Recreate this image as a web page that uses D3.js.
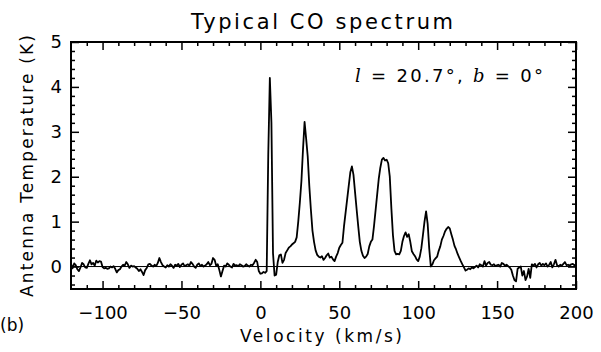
<!doctype html>
<html>
<head>
<style>
  body { margin: 0; background: #fff; }
  text { font-family: "DejaVu Sans", sans-serif; fill: #000; }
  .axis path { display: none; }
  .axis line { stroke: #000; stroke-width: 1.5; }
  .axis text { font-size: 18px; font-family: "DejaVu Sans", sans-serif; }
</style>
<script src="https://d3js.org/d3.v7.min.js"></script>
</head>
<body>
<svg width="601" height="352"></svg>
<script>
// velocity channels, 1 km/s apart, from -120 to 200 km/s
var vStart = -120, vStep = 1;
// antenna temperature (K) per channel
var temps = [
  0.06, -0.04, 0.07, 0.03, -0.06, -0.10, -0.02, 0.08, 0.05, -0.02,
  -0.03, 0.06, 0.14, 0.05, 0.08, 0.02, 0.13, 0.09, 0.12, 0.11,
  -0.01, -0.04, -0.03, -0.05, -0.04, 0.00, -0.02, 0.01, -0.05, -0.13,
  -0.08, -0.06, 0.00, 0.04, 0.02, 0.10, 0.05, -0.03, 0.02, 0.00,
  0.01, -0.02, -0.05, -0.10, -0.06, -0.12, -0.19, -0.08, -0.03, 0.05,
  0.06, 0.02, 0.00, 0.04, 0.01, 0.08, 0.19, 0.10, 0.03, 0.00,
  -0.02, 0.03, 0.00, 0.05, 0.02, -0.03, 0.04, 0.02, 0.06, -0.01,
  0.04, 0.07, 0.01, 0.03, 0.05, 0.02, 0.10, 0.06, 0.00, -0.03,
  0.04, 0.07, 0.01, 0.04, 0.00, 0.02, 0.05, 0.10, 0.03, 0.06,
  0.19, 0.15, 0.02, 0.05, -0.08, -0.22, -0.10, 0.02, 0.00, 0.07,
  0.04, 0.00, -0.02, 0.06, 0.02, 0.03, 0.01, 0.05, 0.03, 0.00,
  0.01, 0.05, 0.02, 0.00, 0.04, 0.03, 0.08, 0.15, 0.10, -0.10,
  // 0 .. 9
  -0.16, -0.15, -0.12, -0.14, -0.10, 2.50, 4.20, 3.20, 0.30, -0.20,
  -0.18, 0.10, 0.25, 0.27, 0.08, 0.15, 0.30, 0.36, 0.42, 0.45,
  0.49, 0.52, 0.55, 0.65, 1.00, 1.42, 1.90, 2.60, 3.22, 2.85,
  2.45, 1.80, 1.27, 0.80, 0.55, 0.36, 0.26, 0.22, 0.20, 0.23,
  0.15, 0.19, 0.25, 0.29, 0.20, 0.22, 0.16, 0.12, 0.22, 0.30,
  0.42, 0.48, 0.53, 0.90, 1.20, 1.50, 1.80, 2.10, 2.23, 2.04,
  1.65, 1.27, 0.90, 0.55, 0.35, 0.24, 0.19, 0.22, 0.28, 0.45,
  0.55, 0.60, 0.90, 1.25, 1.60, 1.95, 2.20, 2.38, 2.42, 2.36,
  2.38, 2.30, 2.00, 1.30, 0.70, 0.35, 0.27, 0.28, 0.27, 0.35,
  0.55, 0.68, 0.76, 0.66, 0.72, 0.55, 0.34, 0.28, 0.23, 0.16,
  // 100 .. 109
  0.12, 0.22, 0.41, 0.70, 1.00, 1.23, 0.95, 0.40, 0.00, 0.05,
  0.14, 0.18, 0.22, 0.35, 0.45, 0.60, 0.68, 0.78, 0.84, 0.88,
  0.85, 0.72, 0.60, 0.46, 0.38, 0.28, 0.20, 0.12, 0.05, -0.02,
  -0.09, -0.07, -0.04, -0.06, -0.02, -0.04, -0.01, 0.02, -0.02, 0.05,
  0.03, 0.00, 0.12, 0.02, 0.08, 0.10, 0.04, 0.03, 0.05, 0.01,
  0.03, 0.04, 0.00, 0.08, 0.06, 0.02, 0.04, 0.01, -0.02, -0.07,
  -0.20, -0.30, -0.33, -0.05, -0.02, 0.00, -0.20, -0.10, -0.30, -0.22,
  -0.05, -0.25, 0.05, 0.02, 0.06, -0.02, 0.05, 0.08, 0.02, 0.06,
  0.03, 0.07, 0.00, 0.04, 0.10, -0.02, 0.05, 0.15, 0.03, 0.00,
  0.04, 0.02, 0.06, 0.10, 0.03, 0.04, 0.02, 0.05, 0.06, 0.03,
  0.04
];
var xMajor = [-100, -50, 0, 50, 100, 150, 200];
var yMajor = [0, 1, 2, 3, 4, 5];

var data = temps.map(function(t, i) { return {v: vStart + i * vStep, t: t}; });

var svg = d3.select("svg");
var pLeft = 71, pRight = 576, pTop = 42, pBottom = 289;

var x = d3.scaleLinear().domain([-120, 200]).range([pLeft, pRight]);
var y = d3.scaleLinear().domain([-0.5, 5]).range([pBottom, pTop]);

var xMinor = d3.range(-110, 200, 10).filter(function(d) { return d % 50 != 0; });
var yMinor = d3.range(-0.4, 5, 0.2).filter(function(d) { return Math.abs(d - Math.round(d)) > 0.01; });

// minor ticks on all four sides
svg.append("g").attr("class", "axis").attr("transform", "translate(0," + pBottom + ")")
   .call(d3.axisBottom(x).tickValues(xMinor).tickSize(-4).tickFormat(""));
svg.append("g").attr("class", "axis").attr("transform", "translate(0," + pTop + ")")
   .call(d3.axisTop(x).tickValues(xMinor).tickSize(-4).tickFormat(""));
svg.append("g").attr("class", "axis").attr("transform", "translate(" + pLeft + ",0)")
   .call(d3.axisLeft(y).tickValues(yMinor).tickSize(-4).tickFormat(""));
svg.append("g").attr("class", "axis").attr("transform", "translate(" + pRight + ",0)")
   .call(d3.axisRight(y).tickValues(yMinor).tickSize(-4).tickFormat(""));

// major ticks
svg.append("g").attr("class", "axis").attr("transform", "translate(0," + pBottom + ")")
   .call(d3.axisBottom(x).tickValues(xMajor).tickSize(-8).tickPadding(17)
         .tickFormat(function(d) { return d < 0 ? "\u2212" + (-d) : d; }));
svg.append("g").attr("class", "axis").attr("transform", "translate(0," + pTop + ")")
   .call(d3.axisTop(x).tickValues(xMajor).tickSize(-8).tickFormat(""));
svg.append("g").attr("class", "axis").attr("transform", "translate(" + pLeft + ",0)")
   .call(d3.axisLeft(y).tickValues(yMajor).tickSize(-8).tickPadding(9).tickFormat(d3.format("d")));
svg.append("g").attr("class", "axis").attr("transform", "translate(" + pRight + ",0)")
   .call(d3.axisRight(y).tickValues(yMajor).tickSize(-8).tickFormat(""));

// zero line
svg.append("line")
   .attr("x1", x(-120)).attr("x2", x(200))
   .attr("y1", y(0)).attr("y2", y(0))
   .attr("stroke", "#000").attr("stroke-width", 1);

// spectrum
var line = d3.line().x(function(d) { return x(d.v); }).y(function(d) { return y(d.t); });
svg.append("path").datum(data)
   .attr("d", line)
   .attr("fill", "none").attr("stroke", "#000")
   .attr("stroke-width", 1.8).attr("stroke-linejoin", "round");

// frame
svg.append("rect")
   .attr("x", pLeft).attr("y", pTop)
   .attr("width", pRight - pLeft).attr("height", pBottom - pTop)
   .attr("fill", "none").attr("stroke", "#000").attr("stroke-width", 2);

// texts
svg.append("text").attr("x", 322).attr("y", 29)
   .attr("text-anchor", "middle").attr("font-size", "21px")
   .attr("textLength", 262).attr("lengthAdjust", "spacing")
   .text("Typical CO spectrum");

svg.append("text").attr("x", 321).attr("y", 342)
   .attr("text-anchor", "middle").attr("font-size", "17px")
   .attr("textLength", 162).attr("lengthAdjust", "spacing")
   .text("Velocity (km/s)");

svg.append("text")
   .attr("transform", "translate(33,166) rotate(-90)")
   .attr("text-anchor", "middle").attr("font-size", "17px")
   .attr("textLength", 262).attr("lengthAdjust", "spacing")
   .text("Antenna Temperature (K)");

svg.append("text").attr("x", 0).attr("y", 331)
   .attr("font-size", "17px").text("(b)");

var ann = svg.append("text").attr("x", 543).attr("y", 82)
   .attr("text-anchor", "end").attr("font-size", "18px")
   .attr("textLength", 188).attr("lengthAdjust", "spacing");
ann.append("tspan").attr("font-family", "DejaVu Serif").attr("font-style", "italic").text("l");
ann.append("tspan").text(" = 20.7\u00b0, ");
ann.append("tspan").attr("font-family", "DejaVu Serif").attr("font-style", "italic").text("b");
ann.append("tspan").text(" = 0\u00b0");
</script>
</body>
</html>
